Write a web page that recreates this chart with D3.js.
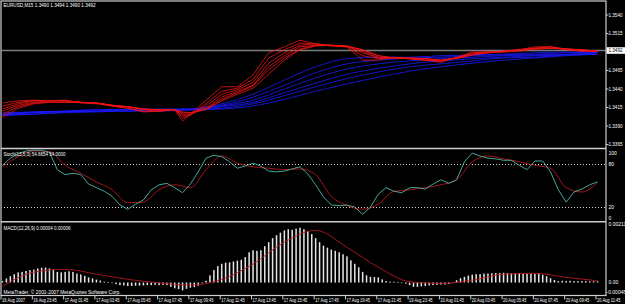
<!DOCTYPE html>
<html>
<head>
<meta charset="utf-8">
<script src="https://cdn.jsdelivr.net/npm/d3@7"></script>
<style>
  html, body { margin: 0; padding: 0; background: #000; }
  svg { display: block; }
  text { font-family: "Liberation Sans", Arial, sans-serif; fill: #fff; }
</style>
</head>
<body>
<div id="chart"></div>
<script>
// EURUSD M15 — MT4 screenshot: MA ribbon + Stochastic + MACD

const W = 625, H = 304;

// main pane: moving averages, in pips above 1.3400
const PIP_BASE = 1.34;
const redKnots = [0,4,8,12,16,20,24,28,32,36,40,44,46,48,52,56,60,64,68,72,76,80,84,88,92,96,100,104,108,112,116,120,124,128,132,136,140,144,148,152];
const red1 = [21,24,25,24,25,21,20,17,14,9,10,12,-3,6,25,43,43,59,89,97,106,101,98,97,79,79,83,81,79,76,83,90,90,91,93,97,97,93,91,91];
const red2 = [17,22,24,24,24,22,21,17,14,10,10,12,1,5,20,37,41,53,82,93,102,101,99,97,85,81,82,81,79,78,82,89,90,91,93,95,97,94,91,91];
const red3 = [13,20,24,24,24,22,21,18,16,12,10,12,4,5,17,33,39,49,75,89,99,101,99,98,89,82,82,81,79,78,82,87,90,91,93,95,97,94,93,91];
const red4 = [10,18,22,24,24,22,21,18,16,13,12,12,6,6,14,29,37,45,70,85,97,99,99,98,91,83,82,81,81,78,82,87,89,91,93,95,95,94,93,91];
const red5 = [6,16,21,22,22,22,21,18,16,13,12,12,8,8,13,26,35,44,66,82,94,99,99,98,93,85,82,82,81,79,82,86,89,90,93,94,95,94,93,91];
const red6 = [2,14,20,22,22,22,21,18,16,13,12,12,9,8,12,24,33,41,60,79,93,98,99,98,93,85,82,82,81,79,81,86,89,90,91,94,95,94,93,91];

const blueKnots = [0,8,16,24,32,40,48,56,64,72,80,88,96,104,112,120,128,136,144,152];
const blue1 = [8,9,10,12,12,13,13,20,33,52,70,81,83,83,85,86,87,89,90,90];
const blue2 = [6,9,10,12,12,12,13,18,29,45,62,74,79,82,83,85,86,87,89,90];
const blue3 = [6,8,10,10,12,12,12,17,25,40,55,67,74,78,81,83,85,86,87,89];
const blue4 = [5,8,9,10,12,12,12,16,22,35,48,60,68,74,78,81,83,85,86,89];
const blue5 = [5,6,9,10,10,12,12,14,20,31,43,54,63,70,74,78,82,83,86,87];
const blue6 = [4,6,8,9,10,10,12,13,17,26,37,47,56,64,70,75,79,82,85,87];

const priceTicks = [1.3540, 1.3515, 1.3465, 1.3440, 1.3415, 1.3390, 1.3365];
const lastPrice = 1.3492;

// stochastic (13,5,3): main every 2 bars, signal every 4 bars
const stochMain = [78,88,94,98,99,99,96,72,65,67,65,52,47,42,35,23,17,24,30,44,51,53,47,40,52,69,88,92,90,83,74,77,81,77,70,69,70,73,76,66,51,34,23,22,23,20,10,20,38,47,42,40,47,47,45,52,58,53,58,83,95,91,88,87,85,85,78,72,84,84,69,44,27,41,45,51,55];
const stochSignal = [76,90,98,97,78,67,55,44,26,27,44,51,47,72,91,81,76,74,72,73,65,35,22,17,24,42,44,47,51,58,83,91,87,83,78,74,47,41,54];
const stochLevels = [80, 20];
const stochTicks = [100, 80, 20, 0];

// MACD (12,26,9), units of 0.00001: histogram per bar, signal every 8 bars
const macdHist = [
  5,14,22,29,35,37,40,43,45,49,
  51,52,49,45,37,35,37,39,37,31,
  28,23,18,14,10,7,3,1,-2,-6,
  -9,-10,-12,-12,-11,-11,-10,-9,-9,-8,
  -9,-8,-9,-15,-20,-23,-27,-22,-18,-16,
  -11,-3,6,25,43,57,65,69,70,73,
  76,79,88,105,112,110,112,126,140,154,
  164,173,181,185,183,187,190,185,178,168,
  154,140,128,121,114,110,105,98,91,77,
  65,53,37,25,20,19,18,11,5,3,
  3,2,0,-4,-9,-15,-15,-13,-12,-10,
  -9,-8,-7,-7,-5,1,8,15,20,24,
  27,29,29,31,31,32,33,33,34,33,
  32,32,32,32,31,31,30,31,27,22,
  15,9,5,6,5,6,5,5,5,5,
  4,4,4
];
const macdSignal = [-13,36,46,29,11,-1,-9,11,64,140,181,122,53,3,-3,8,29,32,18,6];
const macdTicks = [{v: 211, t: '0.00211'}, {v: 0, t: '0.00'}, {v: -45, t: '-0.00045'}];

const timeBars = [0,8,16,24,32,40,48,56,64,72,80,88,96,104,112,120,128,136,144,152];
const timeLabels = ['16 Aug 2007','16 Aug 23:45','17 Aug 01:45','17 Aug 03:45','17 Aug 05:45',
  '17 Aug 07:45','17 Aug 09:45','17 Aug 11:45','17 Aug 13:45','17 Aug 15:45','17 Aug 17:45',
  '17 Aug 19:45','17 Aug 21:45','19 Aug 23:45','20 Aug 01:45','20 Aug 03:45','20 Aug 05:45',
  '20 Aug 07:45','20 Aug 09:45','20 Aug 11:45'];

// ---- layout ----
const L = 1, R = 606;
const panes = {
  main:  { top: 1,     bottom: 148.5 },
  stoch: { top: 148.5, bottom: 221.7 },
  macd:  { top: 221.7, bottom: 295.5 }
};
const FRAME = '#cfcfcf';
const FS = 5;

const svg = d3.select('#chart').append('svg')
  .attr('width', W).attr('height', H)
  .style('background', '#000');

const x = d3.scaleLinear().domain([0, 152]).range([2.5, 597.5]);

function squeeze(sel, w) {
  sel.attr('textLength', w).attr('lengthAdjust', 'spacingAndGlyphs');
}

function label(g, tx, ty, str, w) {
  const t = g.append('text')
    .attr('x', tx).attr('y', ty)
    .attr('font-size', FS)
    .text(str);
  if (w) squeeze(t, w);
  return t;
}

function clipFor(name, p) {
  svg.append('clipPath').attr('id', 'clip-' + name)
    .append('rect')
    .attr('x', L + 0.5).attr('y', p.top + 0.5)
    .attr('width', R - L - 1).attr('height', p.bottom - p.top - 1);
  return svg.append('g').attr('clip-path', `url(#clip-${name})`);
}

function drawMain() {
  const p = panes.main;
  const y = d3.scaleLinear().domain([1.3540, 1.3365]).range([15, 144.5]);
  const g = clipFor('main', p);

  // bid line
  g.append('line')
    .attr('x1', L).attr('x2', R)
    .attr('y1', y(lastPrice)).attr('y2', y(lastPrice))
    .attr('stroke', '#7d7d7d').attr('stroke-width', 1.4);

  const lineFor = knots => d3.line()
    .x((d, i) => x(knots[i]))
    .y(d => y(PIP_BASE + d / 10000));

  const blueLine = lineFor(blueKnots).curve(d3.curveMonotoneX);
  [blue6, blue5, blue4, blue3, blue2, blue1].forEach(s => {
    g.append('path').datum(s)
      .attr('d', blueLine)
      .attr('fill', 'none')
      .attr('stroke', '#1a1aff')
      .attr('stroke-width', 0.8);
  });

  const redLine = lineFor(redKnots);
  [red6, red5, red4, red3, red2, red1].forEach(s => {
    g.append('path').datum(s)
      .attr('d', redLine)
      .attr('fill', 'none')
      .attr('stroke', '#f01414')
      .attr('stroke-width', 0.8);
  });

  label(svg, 3.5, 7.2, 'EURUSD,M15  1.3490 1.3494 1.3490 1.3492', 92);

  // price scale
  priceTicks.forEach(v => {
    svg.append('line')
      .attr('x1', R).attr('x2', R + 2.5)
      .attr('y1', y(v)).attr('y2', y(v))
      .attr('stroke', FRAME);
    label(svg, 608.5, y(v) + 1.8, v.toFixed(4), 14);
  });

  // current price box
  svg.append('rect')
    .attr('x', R + 0.5).attr('y', y(lastPrice) - 3.3)
    .attr('width', W - R).attr('height', 6.6)
    .attr('fill', '#fff');
  label(svg, 608.5, y(lastPrice) + 1.8, lastPrice.toFixed(4), 14)
    .style('fill', '#000');
}

function drawStoch() {
  const p = panes.stoch;
  const y = d3.scaleLinear().domain([0, 100]).range([221.5, 149.5]);
  const g = clipFor('stoch', p);

  stochLevels.forEach(v => {
    g.append('line')
      .attr('x1', L).attr('x2', R)
      .attr('y1', Math.round(y(v)) + 0.5).attr('y2', Math.round(y(v)) + 0.5)
      .attr('stroke', '#d8d8d8')
      .attr('stroke-dasharray', '1,2');
  });

  const mainBars = d3.range(0, 153, 2);
  const sigBars = d3.range(0, 153, 4);

  g.append('path').datum(stochSignal)
    .attr('d', d3.line().x((d, i) => x(sigBars[i])).y(d => y(d)).curve(d3.curveMonotoneX))
    .attr('fill', 'none')
    .attr('stroke', '#b3191c')
    .attr('stroke-width', 0.9);

  g.append('path').datum(stochMain)
    .attr('d', d3.line().x((d, i) => x(mainBars[i])).y(d => y(d)))
    .attr('fill', 'none')
    .attr('stroke', '#4fb7a8')
    .attr('stroke-width', 0.9);

  label(svg, 3.5, 156, 'Stoch(13,5,3) 54.6654 54.0000', 62);

  stochTicks.forEach(v => {
    let ty = y(v) + 1.8;
    if (v === 100) ty = y(v) + 5;
    if (v === 0) ty = y(v) - 1.2;
    label(svg, 608.5, ty, String(v));
  });
}

function drawMacd() {
  const p = panes.macd;
  const y = d3.scaleLinear().domain([211, -45]).range([p.top, p.bottom]);
  const g = clipFor('macd', p);

  g.selectAll('.hist')
    .data(macdHist)
    .enter()
    .append('rect')
    .attr('class', 'hist')
    .attr('x', (d, i) => x(i) - 0.75)
    .attr('width', 1.5)
    .attr('y', d => Math.min(y(d), y(0)))
    .attr('height', d => Math.max(0.6, Math.abs(y(d) - y(0))))
    .attr('fill', '#e6e6e6');

  const sigBars = d3.range(0, 153, 8);
  g.append('path').datum(macdSignal)
    .attr('d', d3.line().x((d, i) => x(sigBars[i])).y(d => y(d)).curve(d3.curveMonotoneX))
    .attr('fill', 'none')
    .attr('stroke', '#b3191c')
    .attr('stroke-width', 0.9);

  label(svg, 3.5, 230.3, 'MACD(12,26,9) 0.00004 0.00006', 67);
  label(svg, 3.5, 293.5, 'MetaTrader, \u00a9 2001-2007 MetaQuotes Software Corp.', 117);

  macdTicks.forEach(tk => {
    let ty = y(tk.v) + 1.8;
    if (tk.v === 211) ty = y(tk.v) + 4.5;
    if (tk.v === -45) ty = y(tk.v) - 1.5;
    label(svg, tk.v < 0 ? 606.5 : 608.5, ty, tk.t);
  });
}

function drawFrame() {
  const f = svg.append('g')
    .attr('fill', 'none')
    .attr('stroke', FRAME)
    .attr('stroke-width', 1.2);
  f.append('rect')
    .attr('x', L).attr('y', panes.main.top)
    .attr('width', R - L).attr('height', panes.macd.bottom - panes.main.top);
  [panes.stoch.top, panes.macd.top].forEach(yy => {
    f.append('line').attr('x1', L).attr('x2', R).attr('y1', yy).attr('y2', yy)
      .attr('stroke-width', 1.6);
  });

  // time axis
  timeBars.forEach((b, i) => {
    const tx = x(b);
    svg.append('line')
      .attr('x1', tx - 1.5).attr('x2', tx - 1.5)
      .attr('y1', panes.macd.bottom).attr('y2', panes.macd.bottom + 4)
      .attr('stroke', FRAME);
    label(svg, tx - 0.5, 302, timeLabels[i], i === 0 ? 23 : 23.5);
  });
}

drawMain();
drawStoch();
drawMacd();
drawFrame();
</script>
</body>
</html>
